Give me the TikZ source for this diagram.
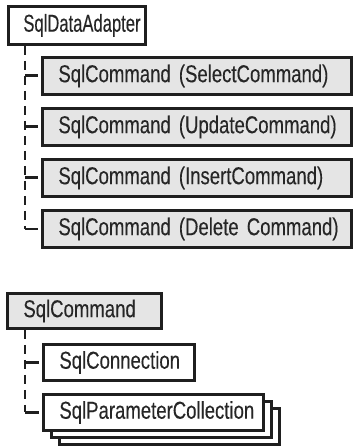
\documentclass[tikz,border=0pt]{standalone}
\usepackage{fontspec}
\setmainfont{Liberation Sans}[FakeStretch=0.76,FakeBold=0.2]
\newfontfamily\narrowfont{Liberation Sans}[FakeStretch=0.68,FakeBold=0.2]
\begin{document}
\begin{tikzpicture}[x=1bp,y=-1bp,
  base/.style={draw=black!88, line width=2.8bp, anchor=north west, inner xsep=16bp, inner ysep=0pt,
    minimum height=37bp, align=left, font=\fontsize{24.5}{26}\selectfont, text=black!85},
  wbox/.style={base, fill=white},
  gbox/.style={base, fill=black!10},
  dashline/.style={draw=black!88, line width=2.8bp, dash pattern=on 9bp off 6bp},
  tick/.style={draw=black!88, line width=2.8bp}
]
\useasboundingbox (0,0) rectangle (353,446);
% first group
\node[wbox, inner xsep=15bp, text width=107bp, minimum height=38bp, font=\fontsize{24.5}{26}\narrowfont] (sda) at (7,5) {\mbox{SqlDataAdapter}};
\node[gbox, text width=277bp] (c1) at (41,56) {\mbox{SqlCommand (SelectCommand)}};
\node[gbox, text width=277bp] (c2) at (41,107) {\mbox{SqlCommand (UpdateCommand)}};
\node[gbox, text width=277bp] (c3) at (41,158) {\mbox{SqlCommand (InsertCommand)}};
\node[gbox, text width=277bp] (c4) at (41,209) {\mbox{SqlCommand (Delete Command)}};
\coordinate (v) at ([xshift=18bp]sda.south west);
\draw[dashline] (v) -- (v |- c4.west);
\foreach \n in {c1,c2,c3,c4}{
  \draw[tick] (v |- \n.west) -- ([xshift=-3.5bp]\n.west);
}
% second group
\node[gbox, text width=122bp, minimum height=35bp] (sc) at (6,292) {\mbox{SqlCommand}};
\node[wbox, text width=119bp, minimum height=36bp] (conn) at (42,343) {\mbox{SqlConnection}};
\node[wbox, text width=188bp, minimum height=36bp] (pc3) at (58,407) {\phantom{SqlParameterCollection}};
\node[wbox, text width=188bp, minimum height=36bp] (pc2) at (50,400) {\phantom{SqlParameterCollection}};
\node[wbox, text width=188bp, minimum height=36bp] (pc) at (42,393) {\mbox{SqlParameterCollection}};
\coordinate (w) at ([xshift=19bp]sc.south west);
\draw[dashline] (w) -- (w |- pc.west);
\foreach \n in {conn,pc}{
  \draw[tick] (w |- \n.west) -- ([xshift=-3.5bp]\n.west);
}
\end{tikzpicture}
\end{document}
